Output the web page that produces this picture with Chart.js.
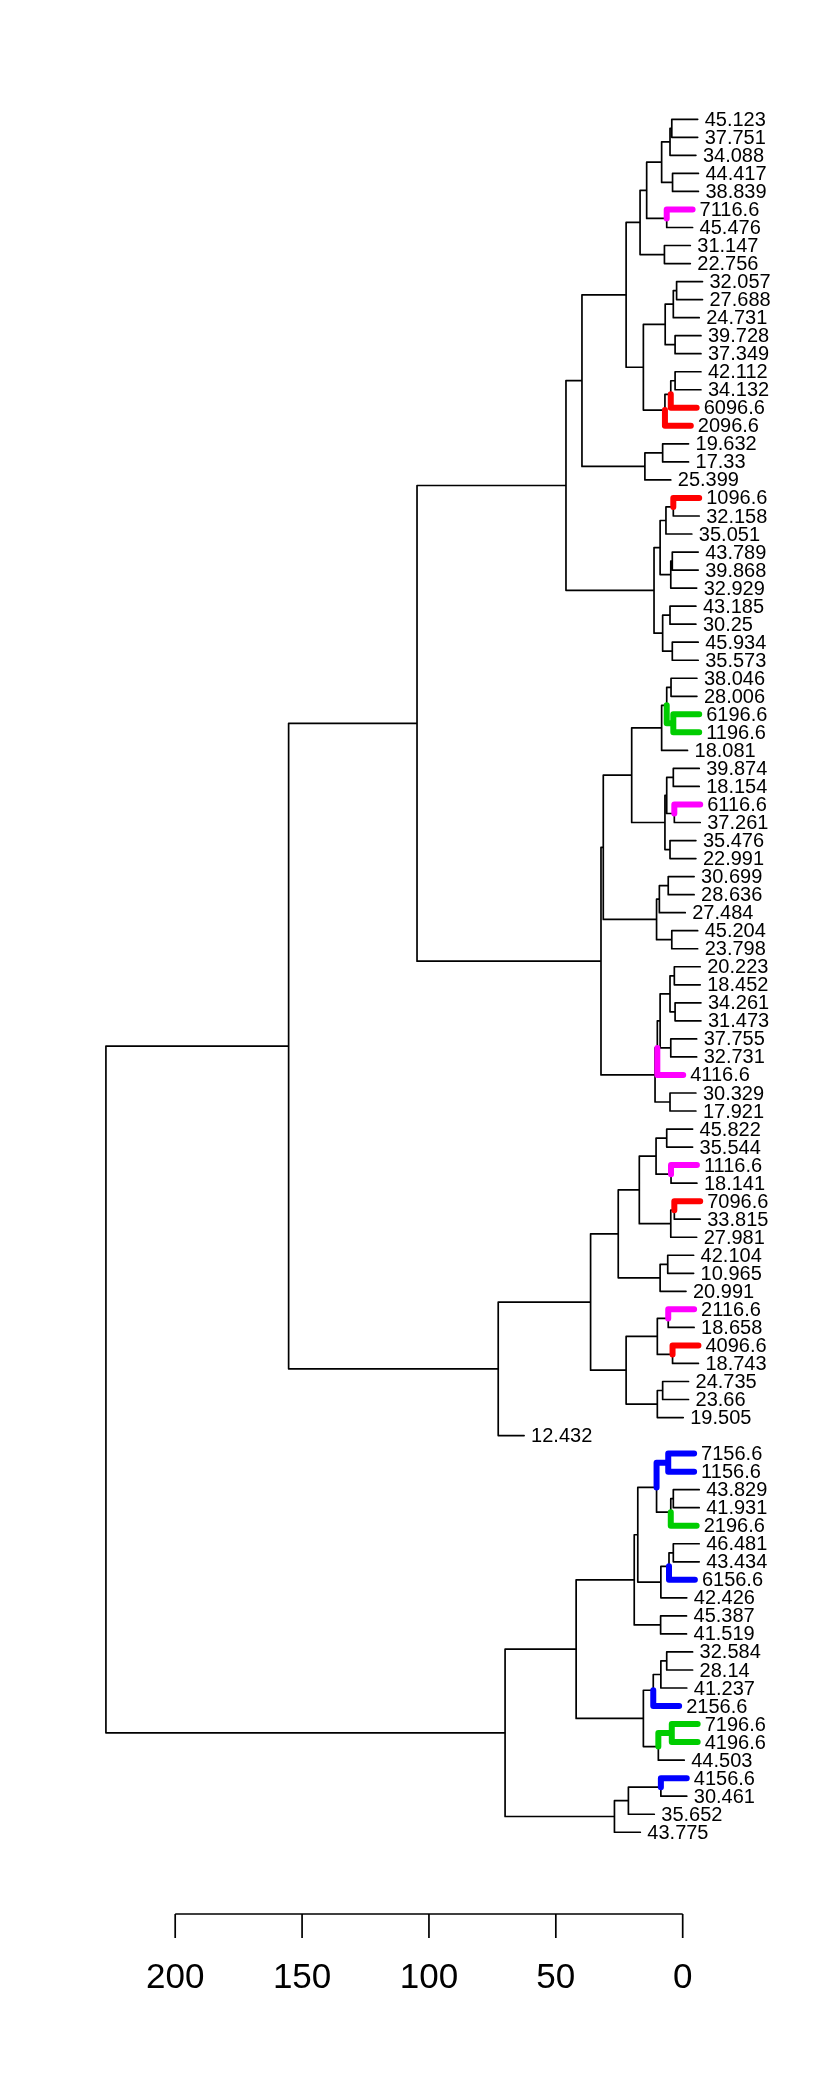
<!DOCTYPE html>
<html>
<head>
<meta charset="utf-8">
<script src="https://cdn.jsdelivr.net/npm/chart.js@4/dist/chart.umd.min.js"></script>
<style>
    html, body { margin: 0; padding: 0; background: #ffffff; }
    #wrap { width: 830px; height: 2076px; }
</style>
</head>
<body>
<div id="wrap"><canvas id="tree" width="830" height="2076"></canvas></div>
<script>
// Leaf labels, top to bottom
const leafLabels = [
    '45.123', '37.751', '34.088', '44.417', '38.839', '7116.6', '45.476', '31.147', '22.756', '32.057',
    '27.688', '24.731', '39.728', '37.349', '42.112', '34.132', '6096.6', '2096.6', '19.632', '17.33',
    '25.399', '1096.6', '32.158', '35.051', '43.789', '39.868', '32.929', '43.185', '30.25', '45.934',
    '35.573', '38.046', '28.006', '6196.6', '1196.6', '18.081', '39.874', '18.154', '6116.6', '37.261',
    '35.476', '22.991', '30.699', '28.636', '27.484', '45.204', '23.798', '20.223', '18.452', '34.261',
    '31.473', '37.755', '32.731', '4116.6', '30.329', '17.921', '45.822', '35.544', '1116.6', '18.141',
    '7096.6', '33.815', '27.981', '42.104', '10.965', '20.991', '2116.6', '18.658', '4096.6', '18.743',
    '24.735', '23.66', '19.505', '12.432', '7156.6', '1156.6', '43.829', '41.931', '2196.6', '46.481',
    '43.434', '6156.6', '42.426', '45.387', '41.519', '32.584', '28.14', '41.237', '2156.6', '7196.6',
    '4196.6', '44.503', '4156.6', '30.461', '35.652', '43.775'
];

// hclust-style merges: negative = leaf number, positive = earlier merge row
const mergeLeft = [
    -1, 1, -4, 2, -6, 4, -8, 6, -10, 9, -13, 10, -15, 13, 14, 12, 8, -19, 18, 17,
    -22, 21, -25, 23, 22, -28, -30, 26, 25, 20, -32, -34, 31, 33, -37, -39, 35, -41, 37, 34,
    -43, 41, -46, 42, 40, -48, -50, 46, -52, 48, 50, -55, 51, 45, 30, -57, -59, 56, -61, 59,
    58, -64, 62, 61, -67, -69, 65, -71, 68, 67, 64, 71, 55, -75, -77, 75, 74, -80, 78, 79,
    77, -84, 81, -86, 84, 85, -90, 87, 86, 83, -93, 91, 92, 90, 73
];
const mergeRight = [
    -2, -3, -5, 3, -7, 5, -9, 7, -11, -12, -14, 11, -16, -17, -18, 15, 16, -20, -21, 19,
    -23, -24, -26, -27, 24, -29, -31, 27, 28, 29, -33, -35, 32, -36, -38, -40, 36, -42, 38, 39,
    -44, -45, -47, 43, 44, -49, -51, 47, -53, 49, -54, -56, 52, 53, 54, -58, -60, 57, -62, -63,
    60, -65, -66, 63, -68, -70, 66, -72, -73, 69, 70, -74, 72, -76, -78, -79, 76, -81, -82, -83,
    80, -85, 82, -87, -88, -89, -91, -92, 88, 89, -94, -95, -96, 93, 94
];
const mergeHeight = [
    4.3, 5.0, 4.0, 8.3, 6.3, 14.2, 7.2, 16.8, 2.4, 3.7, 3.0, 6.9, 3.0, 4.7, 7.0, 15.5, 22.3, 7.9, 14.9, 39.7,
    3.7, 6.6, 4.1, 4.7, 8.9, 5.0, 4.1, 7.9, 11.3, 46.0, 4.6, 3.7, 6.3, 8.3, 3.7, 3.3, 6.3, 5.0, 7.0, 20.1,
    5.7, 9.2, 4.3, 10.3, 31.3, 3.3, 3.0, 5.0, 4.7, 8.9, 10.0, 5.0, 10.9, 32.2, 104.7, 6.3, 4.6, 10.5, 3.3, 4.7,
    17.1, 5.9, 8.9, 25.4, 5.7, 4.0, 10.0, 7.9, 10.0, 22.3, 36.3, 72.7, 155.3, 5.7, 3.7, 4.7, 10.3, 3.7, 5.4, 8.6,
    17.7, 8.7, 19.1, 6.3, 8.6, 11.6, 4.3, 9.6, 15.5, 42.0, 8.6, 21.4, 26.9, 70.0, 227.3
];

// Leaves hang this far below their merge height
const hang = 10.2;

// Axis ticks
const axisTicks = [0, 50, 100, 150, 200];

// Branch colours by label ending
const colorSuffixes = ['096.6', '116.6', '156.6', '196.6'];
const colorValues = ['#ff0000', '#ff00ff', '#0000ff', '#00cd00'];

function leafColor(label) {
    for (let i = 0; i < colorSuffixes.length; i++) {
        if (label.endsWith(colorSuffixes[i])) return colorValues[i];
    }
    return null;
}

// Walk the merges and collect the elbow segments of each branch
const nodeY = [], nodeH = [], nodeColor = [];
const leafEnd = new Array(leafLabels.length);
const segments = {};

function addSegment(color, pts) {
    const key = color || 'black';
    if (!segments[key]) segments[key] = [];
    if (segments[key].length) segments[key].push({ x: null, y: null });
    pts.forEach(p => segments[key].push(p));
}

mergeHeight.forEach((h, k) => {
    const kids = [mergeLeft[k], mergeRight[k]].map(c => {
        if (c < 0) {
            const idx = -c;
            leafEnd[idx - 1] = h - hang;
            return { y: idx, h: h - hang, color: leafColor(leafLabels[idx - 1]) };
        }
        return { y: nodeY[c - 1], h: nodeH[c - 1], color: nodeColor[c - 1] };
    });
    const y = (kids[0].y + kids[1].y) / 2;
    nodeY[k] = y;
    nodeH[k] = h;
    nodeColor[k] = (kids[0].color && kids[0].color === kids[1].color) ? kids[0].color : null;
    kids.forEach(c => {
        addSegment(c.color, [{ x: h, y: y }, { x: h, y: c.y }, { x: c.h, y: c.y }]);
    });
});

const datasets = Object.keys(segments).map(key => ({
    data: segments[key],
    showLine: true,
    spanGaps: false,
    borderColor: key === 'black' ? '#000000' : key,
    borderWidth: key === 'black' ? 1.7 : 6,
    borderCapStyle: 'round',
    borderJoinStyle: 'round',
    pointRadius: 0,
    pointHoverRadius: 0,
    order: key === 'black' ? 1 : 0
}));

// Leaf labels drawn at the end of each hanging leaf
const leafLabelPlugin = {
    id: 'leafLabels',
    afterDatasetsDraw(chart) {
        const ctx = chart.ctx;
        const xs = chart.scales.x, ys = chart.scales.y;
        ctx.save();
        ctx.fillStyle = '#000000';
        ctx.font = '20px "Liberation Sans", Arial, sans-serif';
        ctx.textAlign = 'left';
        ctx.textBaseline = 'middle';
        leafLabels.forEach((label, i) => {
            ctx.fillText(label, xs.getPixelForValue(leafEnd[i]) + 7, ys.getPixelForValue(i + 1) + 1);
        });
        ctx.restore();
    }
};

// R-style bottom axis running only over the tick range
const heightAxisPlugin = {
    id: 'heightAxis',
    afterDraw(chart) {
        const ctx = chart.ctx;
        const xs = chart.scales.x;
        const axisY = 1914;
        const lo = Math.min(...axisTicks), hi = Math.max(...axisTicks);
        ctx.save();
        ctx.strokeStyle = '#000000';
        ctx.lineWidth = 1.7;
        ctx.beginPath();
        ctx.moveTo(xs.getPixelForValue(hi), axisY);
        ctx.lineTo(xs.getPixelForValue(lo), axisY);
        axisTicks.forEach(t => {
            const px = xs.getPixelForValue(t);
            ctx.moveTo(px, axisY);
            ctx.lineTo(px, axisY + 24);
        });
        ctx.stroke();
        ctx.fillStyle = '#000000';
        ctx.font = '35px "Liberation Sans", Arial, sans-serif';
        ctx.textAlign = 'center';
        ctx.textBaseline = 'alphabetic';
        axisTicks.forEach(t => {
            ctx.fillText(String(t), xs.getPixelForValue(t), 1988);
        });
        ctx.restore();
    }
};

new Chart(document.getElementById('tree'), {
    type: 'scatter',
    data: { datasets: datasets },
    options: {
        responsive: false,
        animation: false,
        devicePixelRatio: 1,
        layout: {
            padding: { left: 73.7, right: 96.55, top: 101.27, bottom: 225.7 }
        },
        plugins: {
            legend: { display: false },
            tooltip: { enabled: false }
        },
        elements: { line: { tension: 0 } },
        scales: {
            x: { type: 'linear', reverse: true, min: -20, max: 240, display: false },
            y: { type: 'linear', reverse: true, min: 0, max: 97, display: false }
        }
    },
    plugins: [leafLabelPlugin, heightAxisPlugin]
});
</script>
</body>
</html>
